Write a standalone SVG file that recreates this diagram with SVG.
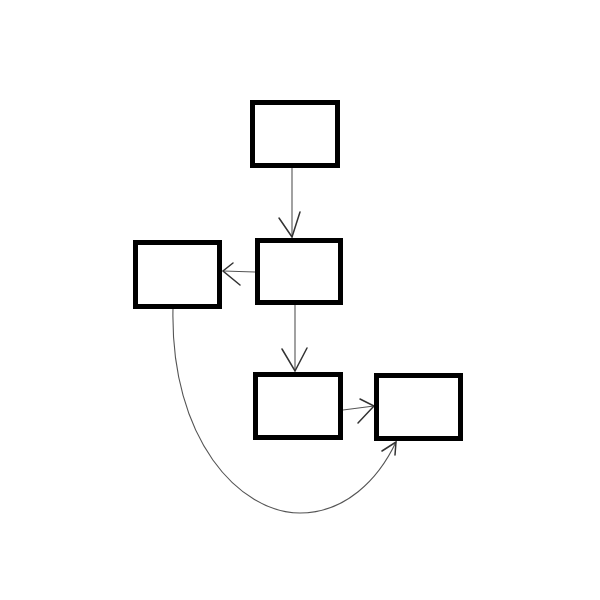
<svg xmlns="http://www.w3.org/2000/svg" width="600" height="600" viewBox="0 0 600 600">
<style>
.box{fill:#fff;stroke:#000;stroke-width:5;stroke-linejoin:miter}
.side{stroke:#000;stroke-width:3;fill:none}
.edge{fill:none;stroke:#555;stroke-width:1.1}
.head{fill:none;stroke:#333;stroke-width:1.5;stroke-linecap:round}
</style>
<rect width="600" height="600" fill="#fff"/>
<g id="connectors">
<path class="edge" d="M292,168 L292,237"/>
<path class="head" d="M279,218 L292,237 L300,212"/>
<path class="edge" d="M255,272 L223,271"/>
<path class="head" d="M233,263 L223,271 L240,285"/>
<path class="edge" d="M295,305 L295,371"/>
<path class="head" d="M282,349 L295,371 L307,348"/>
<path class="edge" d="M343,410 L374,406"/>
<path class="head" d="M360,399 L374,406 L358,423"/>
<path class="edge" d="M173,308 C170,440 240,513 300,513 C345,513 378,480 396,442"/>
<path class="head" d="M382,451 L396,442 L395,455"/>
</g>
<g id="n1"><rect class="box" x="252.5" y="102.5" width="85" height="63"/><path class="side" d="M252,101 L252,167"/></g>
<g id="n2"><rect class="box" x="257.5" y="240.5" width="83" height="62"/><path class="side" d="M257,239 L257,305"/></g>
<g id="n3"><rect class="box" x="135.5" y="242.5" width="84" height="64"/><path class="side" d="M135,241 L135,308"/></g>
<g id="n4"><rect class="box" x="255.5" y="374.5" width="85" height="63"/><path class="side" d="M255,373 L255,439"/></g>
<g id="n5"><rect class="box" x="376.5" y="375.5" width="84" height="63"/><path class="side" d="M376,374 L376,440"/></g>
</svg>
